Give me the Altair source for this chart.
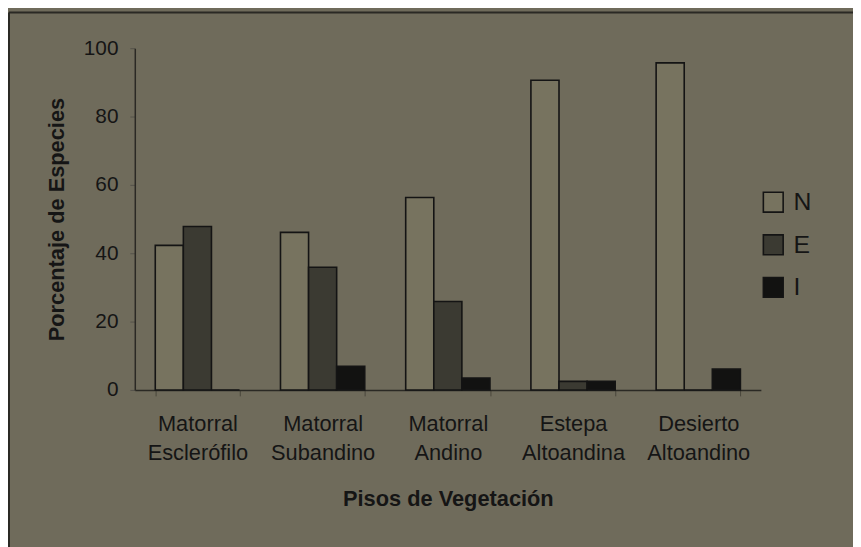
import altair as alt
import pandas as pd

categories = ["Matorral Esclerófilo", "Matorral Subandino", "Matorral Andino",
              "Estepa Altoandina", "Desierto Altoandino"]
series = ["N", "E", "I"]
values_N = [42.3, 46.1, 56.3, 90.6, 95.7]
values_E = [47.8, 35.9, 25.9, 2.5, 0.0]
values_I = [0.0, 6.9, 3.5, 2.5, 6.1]
y_ticks = [0, 20, 40, 60, 80, 100]

rows = []
for i, c in enumerate(categories):
    for s, vals in zip(series, [values_N, values_E, values_I]):
        rows.append({"piso": c, "serie": s, "valor": vals[i]})
df = pd.DataFrame(rows)

BG = "#6f6b5b"
INK = "#151515"
FONT = "Liberation Sans"

bars = alt.Chart(df).mark_bar(stroke="#141414", strokeWidth=1.6).encode(
    x=alt.X("piso:N", sort=categories,
            scale=alt.Scale(paddingInner=0.327, paddingOuter=0.1635),
            axis=alt.Axis(title="Pisos de Vegetación", labelAngle=0,
                          labelExpr="split(datum.label, ' ')",
                          labelLineHeight=29, labelFontSize=22, labelPadding=18,
                          tickBand="extent", tickSize=6, tickColor="#4a473c",
                          domainColor="#2a2924", domainWidth=1.5,
                          titleFontSize=22, titleFontWeight="bold",
                          titlePadding=26)),
    xOffset=alt.XOffset("serie:N", sort=series,
                        scale=alt.Scale(paddingInner=0, paddingOuter=0)),
    y=alt.Y("valor:Q", scale=alt.Scale(domain=[0, 100], nice=False),
            axis=alt.Axis(title="Porcentaje de Especies", values=y_ticks,
                          grid=False, labelFontSize=21, labelPadding=12,
                          tickSize=5, tickColor="#55524a",
                          domainColor="#2a2924", domainWidth=1.5,
                          titleFontSize=22, titleFontWeight="bold",
                          titlePadding=15)),
    color=alt.Color("serie:N", sort=series,
                    scale=alt.Scale(domain=series,
                                    range=["#77735f", "#3b3a32", "#121211"]),
                    legend=alt.Legend(title=None, orient="none",
                                      legendX=632, legendY=143,
                                      symbolType="square", symbolSize=400,
                                      symbolStrokeColor="#141414",
                                      symbolStrokeWidth=1.6,
                                      labelFontSize=25, labelOffset=8,
                                      rowPadding=16, padding=0)),
)

frame = pd.DataFrame({"a": [0]})
left_line = alt.Chart(frame).mark_rule(color="#2a2924", strokeWidth=2).encode(
    x=alt.value(-127), y=alt.value(-36), y2=alt.value(510))
top_line = alt.Chart(frame).mark_rule(color="#2a2924", strokeWidth=2).encode(
    x=alt.value(-127), x2=alt.value(725), y=alt.value(-36))

chart = alt.layer(bars, left_line, top_line).properties(
    width=632, height=345,
    autosize=alt.AutoSizeParams(type="none"),
    padding={"left": 128, "top": 38, "right": 93, "bottom": 156},
    background=BG,
).configure_view(stroke=None).configure_axis(
    labelFont=FONT, titleFont=FONT, labelColor=INK, titleColor=INK,
).configure_legend(labelFont=FONT, labelColor=INK)

chart.save("out.html", embed_options={"renderer": "svg", "actions": False})
